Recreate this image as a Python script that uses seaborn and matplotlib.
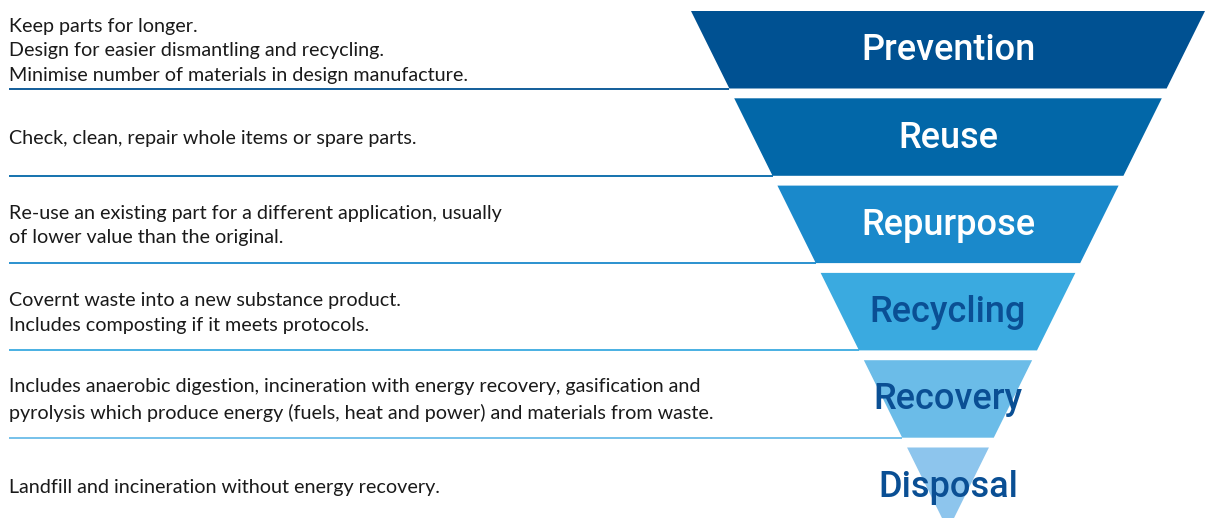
import matplotlib
matplotlib.use("Agg")
import matplotlib.pyplot as plt
import seaborn as sns

# Waste hierarchy levels, top (most preferred) to bottom
stages = ["Prevention", "Reuse", "Repurpose", "Recycling", "Recovery", "Disposal"]
descriptions = [
    "Keep parts for longer.\nDesign for easier dismantling and recycling.\nMinimise number of materials in design manufacture.",
    "Check, clean, repair whole items or spare parts.",
    "Re-use an existing part for a different application, usually\nof lower value than the original.",
    "Covernt waste into a new substance product.\nIncludes composting if it meets protocols.",
    "Includes anaerobic digestion, incineration with energy recovery, gasification and\npyrolysis which produce energy (fuels, heat and power) and materials from waste.",
    "Landfill and incineration without energy recovery.",
]
band_colors = ["#005192", "#0267a8", "#1a89cb", "#3aaae0", "#6bbce8", "#8dc5ed"]
label_colors = ["white", "white", "white", "#0a4f94", "#0a4f94", "#0a4f94"]

sns.set_theme(style="white")
plt.rcParams["font.family"] = ["Lato", "DejaVu Sans"]

W, H = 1215, 518
fig = plt.figure(figsize=(W / 100, H / 100), dpi=100)
ax = fig.add_axes([0, 0, 1, 1])
ax.set_xlim(0, W)
ax.set_ylim(H, 0)
ax.axis("off")

# funnel geometry (pixel space)
cx = 948
top0 = 11
step = 87.3
band_h = 77.5
half0 = 257
slope = 0.495


def half_width(y):
    return max(half0 - (y - top0) * slope, 0)


for i, (stage, desc) in enumerate(zip(stages, descriptions)):
    y0 = top0 + i * step
    y1 = y0 + band_h
    ax.fill(
        [cx - half_width(y0), cx + half_width(y0), cx + half_width(y1), cx - half_width(y1)],
        [y0, y0, y1, y1],
        color=band_colors[i], lw=0, zorder=1,
    )
    yc = (y0 + y1) / 2
    ax.text(cx, yc + 1, stage, ha="center", va="center", fontsize=26,
            family=["Roboto", "Lato", "DejaVu Sans"], fontweight="medium",
            color=label_colors[i], zorder=3)
    ax.text(9, yc + 1, desc, ha="left", va="center", fontsize=14.2,
            color="#1a1a1a", linespacing=1.55, zorder=3)
    if i < len(stages) - 1:
        ax.plot([9, cx - half_width(y1)], [y1, y1], color=band_colors[i],
                lw=1.3, zorder=2, solid_capstyle="butt")

fig.savefig("out.png", dpi=100)
